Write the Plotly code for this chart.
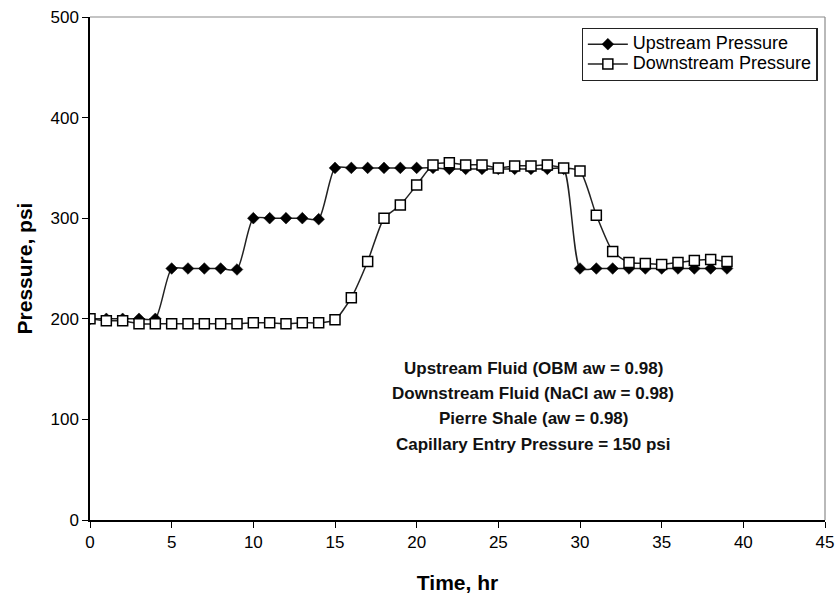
import plotly.graph_objects as go

# Elapsed time (hr) and measured pressures (psi)
time_hr = list(range(40))

upstream_psi = [200, 200, 200, 200, 200, 250, 250, 250, 250, 249,
                300, 300, 300, 300, 299, 350, 350, 350, 350, 350,
                350, 350, 349, 349, 349, 349, 349, 349, 349, 349,
                250, 250, 250, 250, 250, 250, 250, 250, 250, 250]

downstream_psi = [200, 198, 198, 195, 195, 195, 195, 195, 195, 195,
                  196, 196, 195, 196, 196, 199, 221, 257, 300, 313,
                  333, 353, 355, 353, 353, 350, 352, 352, 353, 350,
                  347, 303, 267, 256, 255, 254, 256, 258, 259, 257]

x_ticks = [0, 5, 10, 15, 20, 25, 30, 35, 40, 45]
y_ticks = [0, 100, 200, 300, 400, 500]

notes = [
    "Upstream Fluid (OBM aw = 0.98)",
    "Downstream Fluid (NaCl aw = 0.98)",
    "Pierre Shale (aw = 0.98)",
    "Capillary Entry Pressure = 150 psi",
]

FONT = "Liberation Sans, Arial, sans-serif"


def legend_label(text):
    # larger glyphs than the legend base size keeps the rows compact
    return f'<span style="font-size:18px">{text}</span>'


fig = go.Figure()

fig.add_trace(go.Scatter(
    x=time_hr, y=upstream_psi, name=legend_label("Upstream Pressure"),
    mode="lines+markers",
    line=dict(color="#222222", width=1.5, shape="spline", smoothing=0.6),
    marker=dict(symbol="diamond", size=9, color="black",
                line=dict(color="black", width=0.5)),
))

fig.add_trace(go.Scatter(
    x=time_hr, y=downstream_psi, name=legend_label("Downstream Pressure"),
    mode="lines+markers",
    line=dict(color="#222222", width=1.5, shape="spline", smoothing=0.6),
    marker=dict(symbol="square", size=10, color="white",
                line=dict(color="black", width=1.5)),
))

# notes block in the lower middle of the plot
for i, txt in enumerate(notes):
    fig.add_annotation(
        x=0.603, xref="x domain", y=0.302 - i * 0.0505, yref="y domain",
        text=f"<b>{txt}</b>", showarrow=False,
        xanchor="center", yanchor="middle",
        font=dict(family=FONT, size=17, color="#111111"),
    )

# light frame on the top and right sides
fig.add_shape(type="line", xref="x domain", yref="y domain",
              x0=0, x1=1, y0=1, y1=1, line=dict(color="#8a8a8a", width=1.2))
fig.add_shape(type="line", xref="x domain", yref="y domain",
              x0=1, x1=1, y0=0, y1=1, line=dict(color="#8a8a8a", width=1.2))

fig.update_layout(
    width=839, height=603,
    margin=dict(l=90, r=14, t=17, b=83),
    paper_bgcolor="white", plot_bgcolor="white",
    font=dict(family=FONT, color="black"),
    showlegend=True,
    legend=dict(
        x=0.990, xanchor="right", y=0.978, yanchor="top",
        bgcolor="white", bordercolor="#222222", borderwidth=1.2,
        font=dict(family=FONT, size=13, color="black"),
        itemwidth=40, tracegroupgap=0,
    ),
    xaxis=dict(
        range=[0, 45], tickvals=x_ticks, ticks="outside", ticklen=6,
        tickcolor="black", showline=True, linecolor="black", linewidth=1.5,
        showgrid=False, zeroline=False, automargin=False,
        tickfont=dict(family=FONT, size=17, color="black"),
        title=dict(text="<b>Time, hr</b>", standoff=24,
                   font=dict(family=FONT, size=21, color="black")),
    ),
    yaxis=dict(
        range=[0, 500], tickvals=y_ticks, ticks="outside", ticklen=6,
        tickcolor="black", showline=True, linecolor="black", linewidth=1.5,
        showgrid=False, zeroline=False, automargin=False,
        tickfont=dict(family=FONT, size=17, color="black"),
        title=dict(text="<b>Pressure, psi</b>", standoff=12,
                   font=dict(family=FONT, size=21, color="black")),
    ),
)

fig.write_html("out.html")
